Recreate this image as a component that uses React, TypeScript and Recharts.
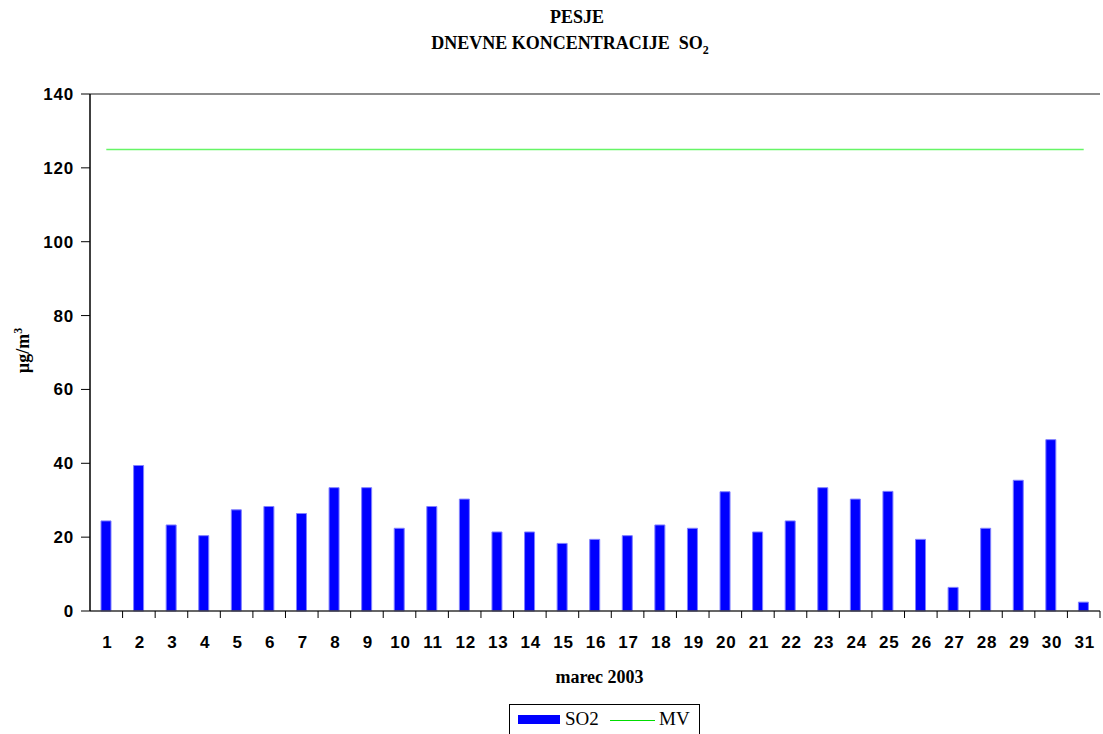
import { ComposedChart, Bar, Line, XAxis, YAxis, ReferenceLine } from 'recharts'

const days = ['1', '2', '3', '4', '5', '6', '7', '8', '9', '10', '11', '12', '13', '14', '15', '16', '17', '18', '19', '20', '21', '22', '23', '24', '25', '26', '27', '28', '29', '30', '31']
const so2 = [24.4, 39.4, 23.3, 20.4, 27.4, 28.3, 26.4, 33.4, 33.4, 22.4, 28.3, 30.3, 21.4, 21.4, 18.3, 19.4, 20.4, 23.3, 22.4, 32.3, 21.4, 24.4, 33.4, 30.3, 32.4, 19.4, 6.4, 22.4, 35.4, 46.4, 2.4]
const mv = [125, 125, 125, 125, 125, 125, 125, 125, 125, 125, 125, 125, 125, 125, 125, 125, 125, 125, 125, 125, 125, 125, 125, 125, 125, 125, 125, 125, 125, 125, 125]
const yTicks = [0, 20, 40, 60, 80, 100, 120, 140]

const data = days.map((d, i) => ({ day: d, SO2: so2[i], MV: mv[i] }))

const W = 1103
const H = 734
const PLOT_LEFT = 90
const PLOT_RIGHT = 1100
const SANS = '"Liberation Sans", Arial, sans-serif'
const SERIF = '"Liberation Serif", "Times New Roman", serif'

function DayTick(props: any) {
  const { x, y, payload } = props
  const bw = (PLOT_RIGHT - PLOT_LEFT) / days.length
  return (
    <g>
      <line x1={x + bw / 2} x2={x + bw / 2} y1={y} y2={y + 7} stroke="#000" />
      <text x={x + 1} y={y + 37} textAnchor="middle" fontFamily={SANS} fontWeight="bold" fontSize={17} letterSpacing={0.8} fill="#000">
        {payload.value}
      </text>
    </g>
  )
}

function ValueTick(props: any) {
  const { x, y, payload } = props
  return (
    <text x={x} y={y + 6} textAnchor="end" fontFamily={SANS} fontWeight="bold" fontSize={17} letterSpacing={0.8} fill="#000">
      {payload.value}
    </text>
  )
}

export default function App() {
  return (
    <div style={{ position: 'absolute', left: 0, top: 0, width: W, height: H, background: '#fff', overflow: 'hidden' }}>
      <div style={{ position: 'absolute', left: 0, width: 1154, top: 6, textAlign: 'center', fontFamily: SERIF, fontWeight: 'bold', fontSize: 18, lineHeight: '22px' }}>
        PESJE
      </div>
      <div style={{ position: 'absolute', left: 0, width: 1140, top: 32, textAlign: 'center', fontFamily: SERIF, fontWeight: 'bold', fontSize: 18, lineHeight: '22px', whiteSpace: 'pre' }}>
        {'DNEVNE KONCENTRACIJE  SO'}<sub style={{ fontSize: 12, lineHeight: 0 }}>2</sub>
      </div>

      <ComposedChart width={W} height={H} data={data} margin={{ top: 94, right: W - PLOT_RIGHT, left: 0, bottom: 83 }}>
        <ReferenceLine y={140} stroke="#8c8c8c" strokeWidth={2} />
        <XAxis
          dataKey="day"
          height={40}
          tickLine={false}
          tickSize={0}
          tickMargin={0}
          axisLine={{ stroke: '#333', strokeWidth: 1.5 }}
          tick={<DayTick />}
          interval={0}
        />
        <YAxis
          width={PLOT_LEFT}
          domain={[0, 140]}
          ticks={yTicks}
          interval={0}
          tickSize={9}
          tickMargin={7}
          axisLine={{ stroke: '#000', strokeWidth: 1.5 }}
          tickLine={{ stroke: '#000' }}
          tick={<ValueTick />}
        />
        <Bar dataKey="SO2" fill="#0000ff" stroke="#8080ff" strokeWidth={1} barSize={10} isAnimationActive={false} />
        <Line dataKey="MV" stroke="#66f566" strokeWidth={1.5} dot={false} activeDot={false} isAnimationActive={false} />
      </ComposedChart>

      <div style={{ position: 'absolute', left: 8, top: 320, width: 32, height: 60, display: 'flex', alignItems: 'center', justifyContent: 'center' }}>
        <div style={{ transform: 'rotate(-90deg)', whiteSpace: 'nowrap', fontFamily: SERIF, fontWeight: 'bold', fontSize: 18 }}>
          µg/m<sup style={{ fontSize: 12, lineHeight: 0 }}>3</sup>
        </div>
      </div>

      <div style={{ position: 'absolute', left: 0, width: 1199, top: 666, textAlign: 'center', fontFamily: SERIF, fontWeight: 'bold', fontSize: 18, lineHeight: '22px' }}>
        marec 2003
      </div>

      <div style={{ position: 'absolute', left: 509, top: 704, width: 191, height: 40, border: '1px solid #000', boxSizing: 'border-box', fontFamily: SERIF, fontSize: 19 }}>
        <div style={{ position: 'absolute', left: 8, top: 10, width: 42, height: 9, background: '#0000ff' }} />
        <div style={{ position: 'absolute', left: 55, top: 3, lineHeight: '22px' }}>SO2</div>
        <div style={{ position: 'absolute', left: 100, top: 15, width: 45, height: 1, background: '#00dd00' }} />
        <div style={{ position: 'absolute', left: 149, top: 3, lineHeight: '22px' }}>MV</div>
      </div>
    </div>
  )
}
